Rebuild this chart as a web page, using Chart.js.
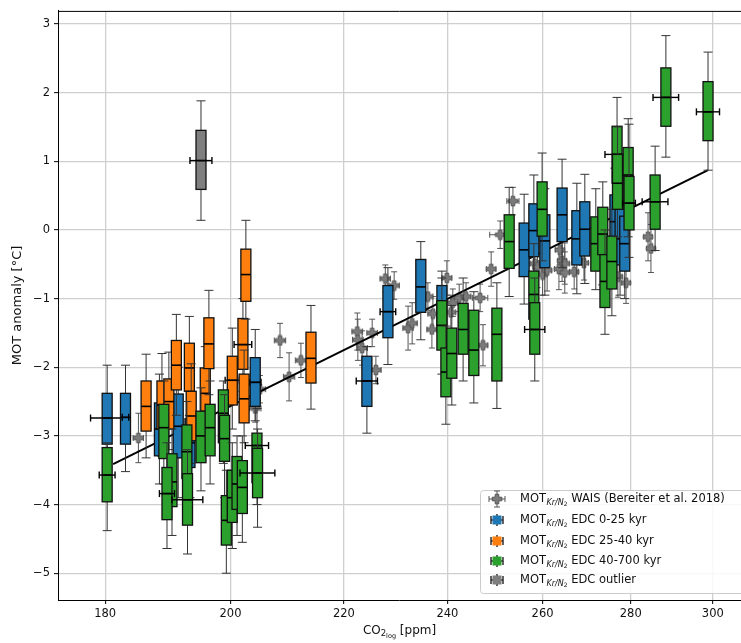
<!DOCTYPE html>
<html>
<head>
<meta charset="utf-8">
<script src="https://cdn.jsdelivr.net/npm/chart.js@4.4.1/dist/chart.umd.min.js"></script>
<style>
  html, body { margin: 0; padding: 0; background: #fff; }
  #wrap { width: 741px; height: 643px; position: relative; }
</style>
</head>
<body>
<div id="wrap"><canvas id="mot-chart"></canvas></div>
<script>
// axis ticks
const xTicks = [180, 200, 220, 240, 260, 280, 300];
const yTicks = [-5, -4, -3, -2, -1, 0, 1, 2, 3];

// WAIS (Bereiter et al. 2018)
const waisCO2 = [185.1, 204.2, 205.0, 208.5, 210.1, 212.2, 222.5, 222.6, 223.4, 225.3, 226.0, 227.8, 229.5, 232.2, 233.0, 236.1, 236.9, 237.1, 239.9, 240.7, 241.1, 242.4, 243.8, 246.7, 247.3, 249.0, 250.9, 253.6, 258.3, 258.9, 260.0, 261.0, 263.8, 264.3, 263.6, 264.9, 264.9, 267.0, 269.2, 277.0, 278.9, 284.1, 284.8];
const waisT = [-3.03, -2.6, -2.32, -1.61, -2.14, -1.90, -1.48, -1.6, -1.72, -1.5, -2.04, -0.71, -0.81, -1.43, -1.36, -0.97, -1.45, -1.22, -0.7, -1.2, -1.06, -0.99, -0.97, -0.99, -1.68, -0.57, -0.07, 0.42, -0.49, -0.54, -0.65, -0.59, -0.29, -0.45, -0.57, -0.49, -0.62, -0.61, -0.48, -0.68, -0.77, -0.1, -0.27];
const waisTErr = [0.36, 0.2, 0.2, 0.25, 0.35, 0.25, 0.27, 0.3, 0.25, 0.2, 0.2, 0.2, 0.2, 0.32, 0.3, 0.2, 0.27, 0.25, 0.25, 0.25, 0.2, 0.2, 0.2, 0.2, 0.3, 0.25, 0.2, 0.2, 0.3, 0.3, 0.3, 0.3, 0.3, 0.3, 0.3, 0.3, 0.3, 0.25, 0.25, 0.3, 0.3, 0.35, 0.35];
const waisCO2Err = [0.8, 1, 1, 1, 1, 1, 1, 1, 1, 1, 1, 1, 1, 1, 1, 1, 1, 1, 1, 1, 1, 1, 1, 1.6, 1, 1, 2.2, 1.3, 1, 1, 1, 1, 1, 1, 1, 1, 1, 1, 1, 1, 1, 1, 1];

// EDC 0-25 kyr
const blueCO2 = [180.3, 183.1, 188.4, 191.4, 193.3, 204.2, 224.3, 228.3, 234.7, 238.9, 256.0, 258.1, 260.5, 264.3, 267.6, 269.4, 276.3, 277.5, 278.6];
const blueCO2Err = [2.5, 0.5, 0, 0, 0, 1, 2, 1.5, 0, 0, 0, 0, 0, 0, 0, 0, 0, 0, 0];
const blueLo = [-3.3, -3.52, -3.7, -3.9, -3.9, -2.78, -2.96, -1.96, -1.6, -1.7, -1.08, -0.8, -0.95, -0.55, -0.93, -0.78, -0.7, -0.95, -1.0];
const blueQ1 = [-3.12, -3.12, -3.29, -3.32, -3.46, -2.57, -2.57, -1.57, -1.2, -1.4, -0.68, -0.39, -0.55, -0.17, -0.51, -0.38, -0.29, -0.51, -0.6];
const blueMed = [-2.74, -2.73, -2.9, -2.86, -3.1, -2.22, -2.2, -1.19, -0.83, -1.1, -0.29, -0.01, -0.16, 0.22, -0.13, 0.01, 0.12, -0.13, -0.2];
const blueQ3 = [-2.38, -2.38, -2.52, -2.39, -2.75, -1.86, -1.84, -0.81, -0.43, -0.81, 0.1, 0.38, 0.22, 0.61, 0.28, 0.41, 0.51, 0.3, 0.2];
const blueHi = [-1.97, -1.97, -2.1, -2.0, -2.3, -1.45, -1.7, -0.55, -0.17, -0.6, 0.52, 0.8, 0.6, 1.03, 0.68, 0.81, 0.9, 0.7, 0.6];

// EDC 25-40 kyr
const orangeCO2 = [186.3, 188.8, 189.9, 191.1, 193.2, 193.5, 195.8, 196.4, 200.3, 202.1, 202.6, 202.3, 214.0];
const orangeCO2Err = [0, 0, 0, 0, 0, 0, 0, 0, 1.2, 1.5, 0, 0, 0];
const orangeLo = [-3.32, -3.3, -3.2, -2.7, -2.7, -3.4, -3.0, -2.4, -2.9, -2.35, -1.3, -3.1, -2.61];
const orangeQ1 = [-2.93, -2.9, -2.9, -2.33, -2.35, -3.07, -2.64, -2.02, -2.55, -2.03, -1.04, -2.81, -2.23];
const orangeMed = [-2.57, -2.55, -2.5, -1.97, -2.01, -2.71, -2.38, -1.66, -2.19, -1.67, -0.65, -2.46, -1.87];
const orangeQ3 = [-2.2, -2.2, -2.17, -1.61, -1.65, -2.35, -2.01, -1.28, -1.84, -1.29, -0.28, -2.1, -1.49];
const orangeHi = [-1.81, -1.8, -1.78, -1.23, -1.26, -1.95, -1.7, -0.88, -1.43, -1.0, 0.14, -1.75, -1.1];

// EDC 40-700 kyr
const greenCO2 = [180.3, 189.1, 190.4, 189.6, 192.8, 192.9, 195.1, 196.6, 198.8, 199.0, 199.3, 200.3, 201.1, 202.0, 204.5, 204.6, 238.9, 239.7, 240.9, 243.2, 245.4, 250.2, 252.8, 258.1, 258.3, 259.9, 271.9, 273.5, 274.0, 275.6, 276.8, 276.9, 279.4, 279.6, 285.8, 288.4, 298.8];
const greenCO2Err = [1.2, 0, 0, 1.2, 0, 2.5, 0, 0, 0, 0, 0, 0, 0, 0, 2.0, 3.0, 0, 0, 0, 0, 0, 0, 0, 0, 2.2, 0, 0, 0, 0, 0, 2.8, 0, 0, 1.5, 3.1, 3.1, 2.9];
const greenLo = [-4.38, -3.7, -4.45, -4.64, -4.0, -4.72, -3.8, -3.7, -3.4, -3.9, -5.0, -4.64, -4.45, -4.55, -4.0, -4.33, -2.1, -2.83, -2.55, -2.2, -2.52, -2.6, -0.97, -1.7, -2.2, -0.45, -0.87, -0.8, -1.52, -1.25, 0.3, -0.1, -0.1, -0.4, -0.3, 1.06, 0.87];
const greenQ1 = [-3.96, -3.33, -4.03, -4.22, -3.62, -4.3, -3.39, -3.29, -3.1, -3.37, -4.59, -4.26, -4.07, -4.13, -3.68, -3.9, -1.75, -2.43, -2.16, -1.81, -2.12, -2.2, -0.56, -1.3, -1.81, -0.09, -0.6, -0.36, -1.13, -0.86, 0.68, 0.3, 0.3, 0.0, 0.01, 1.51, 1.3];
const greenMed = [-3.57, -2.88, -3.67, -3.84, -3.23, -3.93, -3.0, -2.88, -2.67, -3.04, -4.23, -3.9, -3.7, -3.75, -3.14, -3.54, -1.39, -2.07, -1.8, -1.45, -1.75, -1.52, -0.17, -0.94, -1.45, 0.3, -0.2, -0.06, -0.75, -0.46, 1.1, 0.68, 0.8, 0.39, 0.41, 1.93, 1.72];
const greenQ3 = [-3.17, -2.54, -3.26, -3.46, -2.84, -3.55, -2.64, -2.54, -2.33, -2.7, -3.87, -3.5, -3.3, -3.36, -2.96, -3.18, -1.03, -1.72, -1.43, -1.07, -1.17, -1.14, 0.22, -0.6, -1.06, 0.7, 0.19, 0.33, -0.36, -0.09, 1.51, 1.1, 1.2, 0.78, 0.8, 2.36, 2.16];
const greenHi = [-3.1, -2.2, -2.9, -3.1, -2.5, -3.2, -2.3, -2.2, -2.2, -2.4, -3.5, -3.1, -3.0, -3.0, -2.6, -2.9, -0.7, -1.4, -1.1, -0.7, -0.9, -0.77, 0.62, -0.2, -0.7, 1.12, 0.6, 0.7, 0.0, 0.3, 1.93, 1.5, 1.62, 1.54, 1.22, 2.83, 2.59];

// EDC outlier
const grayCO2 = [195.1];
const grayCO2Err = [1.8];
const grayLo = [0.14];
const grayQ1 = [0.59];
const grayMed = [1.01];
const grayQ3 = [1.45];
const grayHi = [1.88];

// regression line
const fitCO2 = [181.2, 298.8];
const fitT = [-3.41, 0.87];

const FONT = '"DejaVu Sans", sans-serif';
const groups = [
    {color: '#1f77b4', co2: blueCO2, err: blueCO2Err, lo: blueLo, q1: blueQ1, med: blueMed, q3: blueQ3, hi: blueHi},
    {color: '#ff7f0e', co2: orangeCO2, err: orangeCO2Err, lo: orangeLo, q1: orangeQ1, med: orangeMed, q3: orangeQ3, hi: orangeHi},
    {color: '#2ca02c', co2: greenCO2, err: greenCO2Err, lo: greenLo, q1: greenQ1, med: greenMed, q3: greenQ3, hi: greenHi},
    {color: '#7f7f7f', co2: grayCO2, err: grayCO2Err, lo: grayLo, q1: grayQ1, med: grayMed, q3: grayQ3, hi: grayHi}
];

function plusPath(g, x, y, a, b){
    g.beginPath();
    g.moveTo(x-a, y-b); g.lineTo(x+a, y-b); g.lineTo(x+a, y-a); g.lineTo(x+b, y-a);
    g.lineTo(x+b, y+a); g.lineTo(x+a, y+a); g.lineTo(x+a, y+b); g.lineTo(x-a, y+b);
    g.lineTo(x-a, y+a); g.lineTo(x-b, y+a); g.lineTo(x-b, y-a); g.lineTo(x-a, y-a);
    g.closePath();
}
const plusImg = (() => {
    const c = document.createElement('canvas');
    c.width = 12; c.height = 12;
    const g = c.getContext('2d');
    plusPath(g, 6, 6, 1.8, 4.8);
    g.fillStyle = '#7a7a7a'; g.fill();
    g.strokeStyle = '#555'; g.lineWidth = 1; g.stroke();
    return c;
})();

function hLine(ctx, x1, x2, y){ ctx.beginPath(); ctx.moveTo(x1, y); ctx.lineTo(x2, y); ctx.stroke(); }
function vLine(ctx, x, y1, y2){ ctx.beginPath(); ctx.moveTo(x, y1); ctx.lineTo(x, y2); ctx.stroke(); }

const errorBars = {
    id: 'errorBars',
    beforeDatasetsDraw(chart){
        const {ctx, chartArea: a, scales: {x, y}} = chart;
        ctx.save();
        ctx.beginPath(); ctx.rect(a.left, a.top, a.right - a.left, a.bottom - a.top); ctx.clip();
        ctx.strokeStyle = '#555'; ctx.lineWidth = 1;
        for (let i = 0; i < waisCO2.length; i++){
            const px = x.getPixelForValue(waisCO2[i]);
            const py = y.getPixelForValue(waisT[i]);
            const x1 = x.getPixelForValue(waisCO2[i] - waisCO2Err[i]);
            const x2 = x.getPixelForValue(waisCO2[i] + waisCO2Err[i]);
            const y1 = y.getPixelForValue(waisT[i] + waisTErr[i]);
            const y2 = y.getPixelForValue(waisT[i] - waisTErr[i]);
            hLine(ctx, x1, x2, py); vLine(ctx, x1, py - 3, py + 3); vLine(ctx, x2, py - 3, py + 3);
            vLine(ctx, px, y1, y2); hLine(ctx, px - 3, px + 3, y1); hLine(ctx, px - 3, px + 3, y2);
        }
        ctx.restore();
    }
};

const boxes = {
    id: 'boxes',
    afterDatasetsDraw(chart){
        const {ctx, chartArea: a, scales: {x, y}} = chart;
        const hw = 5, cap = 4.5;
        ctx.save();
        ctx.beginPath(); ctx.rect(a.left, a.top, a.right - a.left, a.bottom - a.top); ctx.clip();
        for (const g of groups){
            for (let i = 0; i < g.co2.length; i++){
                const cx = x.getPixelForValue(g.co2[i]);
                const pLo = y.getPixelForValue(g.lo[i]), pHi = y.getPixelForValue(g.hi[i]);
                const p1 = y.getPixelForValue(g.q1[i]), p3 = y.getPixelForValue(g.q3[i]);
                const pm = y.getPixelForValue(g.med[i]);
                // whiskers
                ctx.strokeStyle = '#333'; ctx.lineWidth = 1;
                vLine(ctx, cx, p1, pLo); vLine(ctx, cx, p3, pHi);
                hLine(ctx, cx - cap, cx + cap, pLo); hLine(ctx, cx - cap, cx + cap, pHi);
                // box
                ctx.fillStyle = g.color;
                ctx.fillRect(cx - hw, p3, 2 * hw, p1 - p3);
                ctx.strokeStyle = '#111'; ctx.lineWidth = 1.3;
                ctx.strokeRect(cx - hw, p3, 2 * hw, p1 - p3);
                ctx.strokeStyle = '#000'; ctx.lineWidth = 1.6;
                hLine(ctx, cx - hw, cx + hw, pm);
                // co2 error
                if (g.err[i] > 0){
                    const x1 = x.getPixelForValue(g.co2[i] - g.err[i]);
                    const x2 = x.getPixelForValue(g.co2[i] + g.err[i]);
                    ctx.lineWidth = 1.4;
                    hLine(ctx, x1, x2, pm); vLine(ctx, x1, pm - 3.5, pm + 3.5); vLine(ctx, x2, pm - 3.5, pm + 3.5);
                }
            }
        }
        ctx.restore();
    }
};

function drawMOT(ctx, x, y, rest){
    ctx.textAlign = 'left'; ctx.textBaseline = 'middle'; ctx.fillStyle = '#111';
    ctx.font = '11.5px ' + FONT; ctx.fillText('MOT', x, y); x += ctx.measureText('MOT').width + 0.5;
    ctx.font = 'italic 8px ' + FONT; ctx.fillText('Kr/N', x, y + 3.5); x += ctx.measureText('Kr/N').width;
    ctx.font = '6px ' + FONT; ctx.fillText('2', x, y + 5.5); x += ctx.measureText('2').width;
    ctx.font = '11.5px ' + FONT; ctx.fillText(' ' + rest, x, y);
}

const decorations = {
    id: 'decorations',
    afterDraw(chart){
        const {ctx, chartArea: a} = chart;
        ctx.save();
        // top spine
        ctx.strokeStyle = '#000'; ctx.lineWidth = 1;
        hLine(ctx, a.left, a.right, a.top + 0.5);
        // axis titles
        ctx.fillStyle = '#111';
        ctx.save();
        ctx.translate(18, (a.top + a.bottom) / 2);
        ctx.rotate(-Math.PI / 2);
        ctx.font = '13px ' + FONT; ctx.textAlign = 'center'; ctx.textBaseline = 'middle';
        ctx.fillText('MOT anomaly [°C]', 0, 0);
        ctx.restore();
        const parts = [['CO', '12px ', 0], ['2', '8.5px ', 3], ['log', '6.5px ', 5], [' [ppm]', '12px ', 0]];
        let w = 0;
        for (const p of parts){ ctx.font = p[1] + FONT; w += ctx.measureText(p[0]).width; }
        let tx = (a.left + a.right) / 2 - w / 2;
        ctx.textAlign = 'left'; ctx.textBaseline = 'middle';
        for (const p of parts){ ctx.font = p[1] + FONT; ctx.fillText(p[0], tx, 631 + p[2]); tx += ctx.measureText(p[0]).width; }
        // legend
        const lx = 480, ly = 490;
        ctx.beginPath();
        ctx.roundRect(lx + 0.5, ly + 0.5, 300, 103, 3);
        ctx.fillStyle = 'rgba(255,255,255,0.85)'; ctx.fill();
        ctx.strokeStyle = '#cccccc'; ctx.lineWidth = 1; ctx.stroke();
        const rows = [499, 520, 541, 561, 580];
        const mx = 497;
        // WAIS entry
        ctx.strokeStyle = '#555'; ctx.lineWidth = 1;
        hLine(ctx, mx - 8, mx + 8, rows[0]); vLine(ctx, mx - 8, rows[0] - 3, rows[0] + 3); vLine(ctx, mx + 8, rows[0] - 3, rows[0] + 3);
        vLine(ctx, mx, rows[0] - 8, rows[0] + 8); hLine(ctx, mx - 3, mx + 3, rows[0] - 8); hLine(ctx, mx - 3, mx + 3, rows[0] + 8);
        ctx.drawImage(plusImg, mx - 6, rows[0] - 6);
        drawMOT(ctx, 520, rows[0], 'WAIS (Bereiter et al. 2018)');
        const labels = ['EDC 0-25 kyr', 'EDC 25-40 kyr', 'EDC 40-700 kyr', 'EDC outlier'];
        for (let k = 0; k < 4; k++){
            const ry = rows[k + 1];
            ctx.strokeStyle = '#222'; ctx.lineWidth = 1.4;
            hLine(ctx, mx - 6, mx + 6, ry); vLine(ctx, mx - 6, ry - 4, ry + 4); vLine(ctx, mx + 6, ry - 4, ry + 4);
            vLine(ctx, mx, ry - 6, ry + 6);
            ctx.fillStyle = groups[k].color;
            ctx.fillRect(mx - 4.5, ry - 4.5, 9, 9);
            drawMOT(ctx, 520, ry, labels[k]);
        }
        ctx.restore();
    }
};

const gridStyle = {color: '#cfcfcf', lineWidth: 1.3, tickLength: 4, tickColor: '#000', tickWidth: 1};

const config = {
    type: 'scatter',
    data: {
        datasets: [
            {
                label: 'fit',
                data: fitCO2.map((v, i) => ({x: v, y: fitT[i]})),
                showLine: true,
                borderColor: '#000',
                borderWidth: 2,
                pointRadius: 0,
                order: 1
            },
            {
                label: 'WAIS',
                data: waisCO2.map((v, i) => ({x: v, y: waisT[i]})),
                pointStyle: plusImg,
                pointRadius: 5,
                order: 2
            }
        ]
    },
    options: {
        responsive: true,
        maintainAspectRatio: false,
        animation: false,
        devicePixelRatio: 1,
        layout: {autoPadding: false, padding: {top: 8, right: 0, bottom: 0, left: 0}},
        plugins: {legend: {display: false}, tooltip: {enabled: false}},
        scales: {
            x: {
                type: 'logarithmic',
                min: 173.0,
                max: 307.2,
                afterBuildTicks: s => { s.ticks = xTicks.map(v => ({value: v})); },
                afterFit: s => { s.height = 43; s.paddingRight = 0; },
                ticks: {callback: v => String(v), font: {family: FONT, size: 11.5}, color: '#111', maxRotation: 0, autoSkip: false, padding: 3},
                grid: gridStyle,
                border: {color: '#000', width: 1}
            },
            y: {
                type: 'linear',
                min: -5.39,
                max: 3.19,
                afterBuildTicks: s => { s.ticks = yTicks.map(v => ({value: v})); },
                afterFit: s => { s.width = 58; },
                ticks: {callback: v => v < 0 ? '\u2212' + Math.abs(v) : String(v), font: {family: FONT, size: 11.5}, color: '#111', padding: 4},
                grid: gridStyle,
                border: {color: '#000', width: 1}
            }
        }
    },
    plugins: [errorBars, boxes, decorations]
};

document.addEventListener('DOMContentLoaded', () => {
    new Chart('mot-chart', config);
});
</script>
</body>
</html>
